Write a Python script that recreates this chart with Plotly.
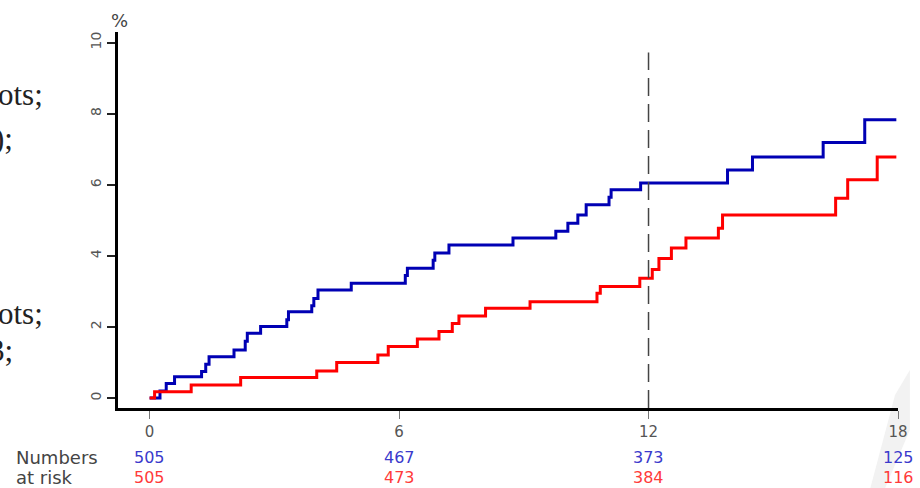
import plotly.graph_objects as go

# ---- data ----
blue_t = [0, 0.25, 0.4, 0.6, 1.25, 1.35, 1.43, 2.03, 2.3, 2.35, 2.67, 3.3, 3.34, 3.9, 3.95, 4.05,
          4.85, 6.15, 6.2, 6.82, 6.86, 7.2, 8.74, 9.77, 10.06, 10.3, 10.5, 11.05, 11.1, 11.81,
          13.9, 14.5, 16.2, 17.2, 17.96]
blue_v = [0, 0.2, 0.41, 0.6, 0.75, 0.95, 1.16, 1.35, 1.6, 1.82, 2.01, 2.2, 2.43, 2.6, 2.8, 3.04,
          3.23, 3.45, 3.65, 3.88, 4.08, 4.31, 4.5, 4.69, 4.92, 5.15, 5.44, 5.65, 5.86, 6.05,
          6.42, 6.78, 7.19, 7.83, 7.83]
red_t = [0, 0.12, 1.0, 2.19, 4.02, 4.5, 5.49, 5.74, 6.44, 6.96, 7.28, 7.44, 8.08, 9.15, 10.76,
         10.84, 11.79, 12.09, 12.25, 12.55, 12.9, 13.68, 13.78, 16.5, 16.79, 17.5, 17.96]
red_v = [0, 0.18, 0.37, 0.58, 0.76, 1.0, 1.21, 1.45, 1.66, 1.87, 2.1, 2.31, 2.53, 2.71, 2.95,
         3.14, 3.37, 3.62, 3.93, 4.22, 4.5, 4.78, 5.15, 5.62, 6.14, 6.78, 6.78]

x_ticks = [0, 6, 12, 18]
y_ticks = [0, 2, 4, 6, 8, 10]
risk_blue = ["505", "467", "373", "125"]
risk_red = ["505", "473", "384", "116"]
risk_labels = ["Numbers", "at risk"]
landmark = 12
fragments = ["ots;", ");", "ots;", "3;"]

BLUE = "#0000b4"
RED = "#ff0000"
SANS = "DejaVu Sans, Verdana, Arial"
SERIF = "Liberation Serif, Times New Roman, serif"

W, H = 920, 488
L, R, T, B = 118, 12, 32, 80
pw, ph = W - L - R, H - T - B


def px(xp):
    return (xp - L) / pw


def py(yp):
    return (H - B - yp) / ph


fig = go.Figure()
fig.add_trace(go.Scatter(x=blue_t, y=blue_v, mode="lines", line=dict(color=BLUE, width=3, shape="hv"),
                         showlegend=False, hoverinfo="skip"))
fig.add_trace(go.Scatter(x=red_t, y=red_v, mode="lines", line=dict(color=RED, width=3, shape="hv"),
                         showlegend=False, hoverinfo="skip"))

fig.add_shape(type="line", x0=landmark, x1=landmark, y0=-0.28, y1=9.72, xref="x", yref="y",
              line=dict(color="#444444", width=1.5, dash="18px,8px"))

# numbers at risk
for xv, b, r in zip(x_ticks, risk_blue, risk_red):
    fig.add_annotation(x=xv, y=py(458), xref="x", yref="paper", text=b, showarrow=False,
                       font=dict(family=SANS, size=16, color="#3a3acc"),
                       xanchor="center", yanchor="middle")
    fig.add_annotation(x=xv, y=py(477), xref="x", yref="paper", text=r, showarrow=False,
                       font=dict(family=SANS, size=16, color="#ff3a3a"),
                       xanchor="center", yanchor="middle")

for txt, yp in zip(risk_labels, [457, 477]):
    fig.add_annotation(x=px(14), y=py(yp), xref="paper", yref="paper", text=txt, showarrow=False,
                       xanchor="left", yanchor="middle", borderpad=0,
                       font=dict(family=SANS, size=18, color="#444444"))

fig.add_annotation(x=px(120), y=py(20), xref="paper", yref="paper", text="%", showarrow=False,
                   xanchor="center", yanchor="middle",
                   font=dict(family=SANS, size=18, color="#444444"))

# cropped text fragments at the left edge
for txt, xr, yp in zip(fragments, [44, 14, 44, 14], [95, 138, 313, 350]):
    fig.add_annotation(x=px(xr), y=py(yp), xref="paper", yref="paper", text=txt, showarrow=False,
                       xanchor="right", yanchor="middle",
                       font=dict(family=SERIF, size=31, color="#222222"))

# faint watermark stroke at bottom right
fig.add_shape(type="path", xref="paper", yref="paper",
              path=f"M {px(905)} {py(395)} L {px(920)} {py(370)} L {px(920)} {py(430)} "
                   f"L {px(895)} {py(488)} L {px(880)} {py(488)} Z",
              fillcolor="#f2f2f2", line=dict(width=0), layer="below")

fig.update_layout(
    width=W, height=H,
    margin=dict(l=L, r=R, t=T, b=B),
    plot_bgcolor="white", paper_bgcolor="white",
    xaxis=dict(range=[-0.76, 18.0], tickvals=x_ticks, ticktext=[str(v) for v in x_ticks],
               showgrid=False, zeroline=False, showline=True, linecolor="black", linewidth=3,
               ticks="outside", ticklen=8, tickwidth=1, tickcolor="#777777",
               tickfont=dict(family=SANS, size=15, color="#555555")),
    yaxis=dict(range=[-0.28, 10.3], tickvals=y_ticks, ticktext=[str(v) for v in y_ticks],
               showgrid=False, zeroline=False, showline=True, linecolor="black", linewidth=3,
               ticks="outside", ticklen=8, tickwidth=1.5, tickcolor="#222222", tickangle=-90,
               tickfont=dict(family=SANS, size=14, color="#555555")),
)

fig.write_html("out.html", config={"displayModeBar": False},
               post_script="document.body.style.margin='0';document.body.style.overflow='hidden';")
